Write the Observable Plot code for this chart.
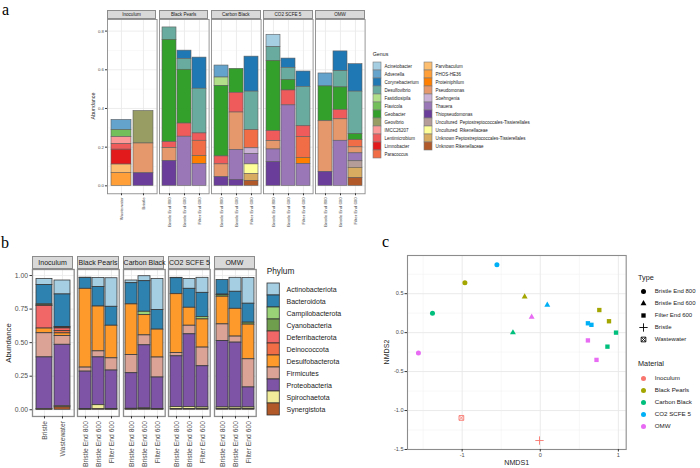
<!DOCTYPE html>
<html><head><meta charset="utf-8">
<script src="https://cdn.jsdelivr.net/npm/d3@7"></script>
<script src="https://cdn.jsdelivr.net/npm/@observablehq/plot@0.6"></script>
<style>
body{margin:0;background:#fff;}
#root{position:relative;width:700px;height:468px;overflow:hidden;background:#fff;font-family:"Liberation Sans",Arial,sans-serif;}
</style></head>
<body><div id="root"></div>
<script>
// ---------------- DATA ----------------
const materials = ["Inoculum","Black Pearls","Carbon Black","CO2 SCFE 5","OMW"];
const materialColors = ["#F8766D","#A3A500","#00BF7D","#00B0F6","#E76BF3"];
const inoculumSamplesA = ["Wastewater","Bristle"];
const inoculumSamplesB = ["Bristle","Wastewater"];
const treatmentSamples = ["Bristle End 800","Bristle End 600","Filter End 600"];

const genera = ["Acinetobacter","Advenella","Corynebacterium","Desulfovibrio","Fastidiosipila","Flavicola","Geobacter","Geovibrio","IMCC26207","Lentimicrobium","Limnobacter","Paracoccus","Parvibaculum","PHOS-HE36","Proteiniphilum","Pseudomonas","Soehngenia","Thauera","Thiopseudomonas","Uncultured  Peptostreptococcales-Tissierellales","Uncultured  Rikenellaceae","Unknown Peptostreptococcales-Tissierellales","Unknown Rikenellaceae"];

const genusInoculum = [
  ["Wastewater","Advenella",0.053],["Wastewater","Flavicola",0.036],["Wastewater","IMCC26207",0.036],
  ["Wastewater","Lentimicrobium",0.029],["Wastewater","Limnobacter",0.077],["Wastewater","Parvibaculum",0.043],
  ["Wastewater","PHOS-HE36",0.067],
  ["Bristle","Geovibrio",0.168],["Bristle","Pseudomonas",0.154],["Bristle","Thiopseudomonas",0.065]
];
const genusBlackPearls = [
  ["Bristle End 800","Desulfovibrio",0.064],["Bristle End 800","Geobacter",0.529],["Bristle End 800","Lentimicrobium",0.031],
  ["Bristle End 800","Pseudomonas",0.067],["Bristle End 800","Thiopseudomonas",0.128],
  ["Bristle End 600","Corynebacterium",0.043],["Bristle End 600","Desulfovibrio",0.056],["Bristle End 600","Geobacter",0.278],
  ["Bristle End 600","Lentimicrobium",0.068],["Bristle End 600","Thauera",0.254],
  ["Filter End 600","Corynebacterium",0.161],["Filter End 600","Desulfovibrio",0.231],["Filter End 600","Lentimicrobium",0.038],
  ["Filter End 600","Paracoccus",0.079],["Filter End 600","Proteiniphilum",0.041],["Filter End 600","Thauera",0.113]
];
const genusCarbonBlack = [
  ["Bristle End 800","Advenella",0.062],["Bristle End 800","Fastidiosipila",0.043],["Bristle End 800","Geobacter",0.365],
  ["Bristle End 800","Lentimicrobium",0.041],["Bristle End 800","Pseudomonas",0.066],["Bristle End 800","Thiopseudomonas",0.045],
  ["Bristle End 600","Geobacter",0.124],["Bristle End 600","Lentimicrobium",0.102],["Bristle End 600","Pseudomonas",0.194],
  ["Bristle End 600","Thauera",0.154],["Bristle End 600","Thiopseudomonas",0.031],
  ["Filter End 600","Corynebacterium",0.181],["Filter End 600","Desulfovibrio",0.199],["Filter End 600","Paracoccus",0.094],
  ["Filter End 600","Soehngenia",0.03],["Filter End 600","Thauera",0.053],["Filter End 600","Uncultured  Rikenellaceae",0.049],
  ["Filter End 600","Unknown Peptostreptococcales-Tissierellales",0.036],["Filter End 600","Unknown Rikenellaceae",0.026]
];
const genusCO2 = [
  ["Bristle End 800","Acinetobacter",0.063],["Bristle End 800","Desulfovibrio",0.072],["Bristle End 800","Geobacter",0.363],
  ["Bristle End 800","Lentimicrobium",0.052],["Bristle End 800","Pseudomonas",0.043],["Bristle End 800","Thauera",0.065],
  ["Bristle End 800","Thiopseudomonas",0.123],
  ["Bristle End 600","Corynebacterium",0.048],["Bristle End 600","Desulfovibrio",0.062],["Bristle End 600","Geobacter",0.055],
  ["Bristle End 600","Lentimicrobium",0.077],["Bristle End 600","Thauera",0.416],
  ["Filter End 600","Corynebacterium",0.079],["Filter End 600","Desulfovibrio",0.204],["Filter End 600","Lentimicrobium",0.056],
  ["Filter End 600","Paracoccus",0.108],["Filter End 600","Proteiniphilum",0.031],["Filter End 600","Thauera",0.113]
];
const genusOMW = [
  ["Bristle End 800","Advenella",0.067],["Bristle End 800","Geobacter",0.18],["Bristle End 800","Pseudomonas",0.262],
  ["Bristle End 800","Thiopseudomonas",0.072],
  ["Bristle End 600","Corynebacterium",0.102],["Bristle End 600","Desulfovibrio",0.084],["Bristle End 600","Geobacter",0.117],
  ["Bristle End 600","Lentimicrobium",0.048],["Bristle End 600","Pseudomonas",0.111],["Bristle End 600","Thauera",0.233],
  ["Filter End 600","Corynebacterium",0.142],["Filter End 600","Desulfovibrio",0.22],["Filter End 600","Geobacter",0.031],
  ["Filter End 600","Paracoccus",0.037],["Filter End 600","Pseudomonas",0.031],["Filter End 600","Thauera",0.041],
  ["Filter End 600","Uncultured  Peptostreptococcales-Tissierellales",0.034],
  ["Filter End 600","Unknown Peptostreptococcales-Tissierellales",0.052],["Filter End 600","Unknown Rikenellaceae",0.041]
];

const phyla = ["Actinobacteriota","Bacteroidota","Campilobacterota","Cyanobacteria","Deferribacterota","Deinococcota","Desulfobacterota","Firmicutes","Proteobacteria","Spirochaetota","Synergistota"];
// values per sample in the order of `phyla`
const phylumInoculum = [
  ["Bristle",        [0.045,0.145,0.008,0.003,0.169,0,0.035,0.18,0.386,0.002,0.002]],
  ["Wastewater",     [0.104,0.243,0.004,0.006,0.02,0.017,0.02,0.065,0.458,0.008,0.018]]
];
const phylumBlackPearls = [
  ["Bristle End 800",[0.003,0.08,0,0,0,0,0.587,0.03,0.279,0.004,0.001]],
  ["Bristle End 600",[0.067,0.146,0,0,0,0,0.334,0.045,0.356,0.03,0.004]],
  ["Filter End 600", [0.213,0.141,0,0,0,0,0.243,0.091,0.286,0.004,0.002]]
];
const phylumCarbonBlack = [
  ["Bristle End 800",[0.02,0.158,0,0,0,0,0.377,0.136,0.265,0.004,0.003]],
  ["Bristle End 600",[0.037,0.228,0.025,0,0,0,0.151,0.074,0.47,0.005,0.005]],
  ["Filter End 600", [0.232,0.146,0,0,0,0,0.208,0.149,0.234,0.004,0.002]]
];
const phylumCO2 = [
  ["Bristle End 800",[0.003,0.119,0,0,0,0,0.438,0.025,0.378,0.014,0.006]],
  ["Bristle End 600",[0.074,0.141,0,0,0,0,0.134,0.064,0.542,0.014,0.006]],
  ["Filter End 600", [0.112,0.181,0.017,0,0,0,0.21,0.139,0.307,0.012,0.005]]
];
const phylumOMW = [
  ["Bristle End 800",[0,0.109,0.004,0.012,0,0,0.206,0.124,0.495,0.012,0.005]],
  ["Bristle End 600",[0.104,0.127,0,0,0,0,0.207,0.045,0.483,0.012,0.005]],
  ["Filter End 600", [0.191,0.141,0,0.015,0,0,0.258,0.21,0.149,0.012,0.005]]
];

const nmdsTypes = ["Bristle End 800","Bristle End 600","Filter End 600","Bristle","Wastewater"];
const nmdsMaterial = ["Inoculum","Inoculum","Black Pearls","Black Pearls","Black Pearls","Black Pearls","Carbon Black","Carbon Black","Carbon Black","Carbon Black","CO2 SCFE 5","CO2 SCFE 5","CO2 SCFE 5","CO2 SCFE 5","OMW","OMW","OMW","OMW"];
const nmdsType = ["Wastewater","Bristle","Bristle End 800","Bristle End 600","Filter End 600","Filter End 600","Bristle End 800","Bristle End 600","Filter End 600","Filter End 600","Bristle End 800","Bristle End 600","Filter End 600","Filter End 600","Bristle End 800","Bristle End 600","Filter End 600","Filter End 600"];
const nmds1 = [-1.01,-0.01,-0.965,-0.20,0.756,0.88,-1.38,-0.35,0.97,0.86,-0.555,0.09,0.61,0.655,-1.56,-0.11,0.61,0.72];
const nmds2 = [-1.095,-1.385,0.64,0.46,0.29,0.146,0.25,0.0,0.0,-0.18,0.87,0.355,0.12,0.10,-0.26,0.20,-0.10,-0.35];

// ---------------- HELPERS ----------------
const FONT = '"Liberation Sans", Arial, sans-serif';
const SERIF = '"Liberation Serif", "Times New Roman", serif';
const root = document.getElementById("root");
const paired = ["#A6CEE3","#1F78B4","#B2DF8A","#33A02C","#FB9A99","#E31A1C","#FDBF6F","#FF7F00","#CAB2D6","#6A3D9A","#FFFF99","#B15928"];
const ramp = d3.piecewise(d3.interpolateRgb, paired);
const genusColors = d3.quantize(ramp, genera.length);
const phylumColors = d3.quantize(ramp, phyla.length);

function put(el, left, top) {
  Object.assign(el.style, {position:"absolute", left:left+"px", top:top+"px", overflow:"visible", maxWidth:"none"});
  root.appendChild(el);
  return el;
}
function label(txt, x, y, size, o = {}) {
  const d = document.createElement("div");
  d.textContent = txt;
  Object.assign(d.style, {position:"absolute", left:x+"px", top:y+"px", fontSize:size+"px",
    fontFamily:o.family || FONT, color:o.color || "#1A1A1A", whiteSpace:"pre", lineHeight:o.lh || "1",
    transform:`translate(${o.ax ?? -50}%, ${o.ay ?? -50}%)` + (o.rot ? ` rotate(${o.rot}deg)` : "")});
  root.appendChild(d);
}
function strip(txt, left, top, w, h, fs) {
  const d = document.createElement("div");
  d.textContent = txt;
  Object.assign(d.style, {position:"absolute", left:left+"px", top:top+"px", width:w+"px", height:h+"px",
    boxSizing:"border-box", background:"#D9D9D9", border:"1px solid #8C8C8C", fontSize:fs+"px",
    lineHeight:(h-2)+"px", textAlign:"center", color:"#1A1A1A", whiteSpace:"nowrap", overflow:"visible"});
  root.appendChild(d);
}

function facet(cfg, i) {
  const left = cfg.left0 + i * cfg.step;
  const ml = i === 0 ? cfg.ml : 0;
  const rows = cfg.data[i].filter(d => d[2] > 0);
  const marks = [
    Plot.gridY(cfg.minor, {stroke:"#F2F2F2", strokeOpacity:1, strokeWidth:0.5}),
    Plot.gridY(cfg.major, {stroke:"#E8E8E8", strokeOpacity:1, strokeWidth:0.8}),
    Plot.gridX({stroke:"#E8E8E8", strokeOpacity:1, strokeWidth:0.8}),
    Plot.barY(rows, {x: d => d[0], y: d => d[2], fill: d => d[1], order: cfg.order, stroke: cfg.barStroke, strokeWidth: cfg.barSW}),
    Plot.frame({stroke:"#8C8C8C", strokeWidth: cfg.frameSW}),
    Plot.axisX({tickRotate:-90, tickSize:cfg.tick, tickPadding:cfg.pad, label:null, stroke:"#333"})
  ];
  if (i === 0) marks.push(Plot.axisY(cfg.major, {tickFormat:cfg.fmt, tickSize:cfg.tick, tickPadding:cfg.pad, label:null, stroke:"#333"}));
  const p = Plot.plot({
    width: ml + cfg.w, height: cfg.panelH + cfg.mb,
    marginLeft: ml, marginRight: 0, marginTop: 0, marginBottom: cfg.mb,
    style: {fontFamily: FONT, fontSize: cfg.fs + "px", color: "#4D4D4D", background: "transparent"},
    x: {type:"band", domain: cfg.samples[i], paddingInner:0.1, paddingOuter:0.15, axis:null},
    y: {domain: cfg.yDomain, axis:null},
    color: {domain: cfg.cDomain, range: cfg.cRange},
    marks
  });
  put(p, left - ml, cfg.panelTop);
  strip(materials[i], left, cfg.stripTop, cfg.w, cfg.stripH, cfg.stripFs);
}

function swatches(items, cDomain, cRange, o) {
  const H = items.length * o.rowH;
  const pad = 1 - o.keyH / o.rowH;
  const p = Plot.plot({
    width: o.width, height: H, margin: 0,
    style: {fontFamily: FONT, fontSize: o.fs + "px", color: "#1A1A1A", background: "transparent"},
    x: {domain:[0,1], range:[0,o.keyW], axis:null},
    y: {type:"band", domain: items, range:[0,H], paddingInner:pad, paddingOuter:pad/2, axis:null},
    color: {domain: cDomain, range: cRange},
    marks: [
      Plot.barX(items, {y: d => d, x1: 0, x2: 1, fill: d => d, stroke: o.stroke, strokeWidth: o.sw}),
      Plot.text(items, {y: d => d, x: 1, dx: o.dx, text: d => d, textAnchor: "start", fill: "#1A1A1A"})
    ]
  });
  put(p, o.left, o.top);
}

// ---------------- PANEL A ----------------
const order = genera.slice().reverse();
const cfgA = {
  data: [genusInoculum, genusBlackPearls, genusCarbonBlack, genusCO2, genusOMW],
  samples: [inoculumSamplesA, treatmentSamples, treatmentSamples, treatmentSamples, treatmentSamples],
  left0: 106.7, step: 52.15, w: 49.6, ml: 14, panelTop: 19, panelH: 174.3, mb: 45,
  stripTop: 9.7, stripH: 9.5, stripFs: 4.6, fs: 4.4, tick: 2, pad: 1.5,
  yDomain: [-0.041, 0.86], major: [0, 0.2, 0.4, 0.6, 0.8], minor: [0.1, 0.3, 0.5, 0.7],
  fmt: d => d.toFixed(1), cDomain: genera, cRange: genusColors, order,
  barStroke: "#5E5E5E", barSW: 0.6, frameSW: 0.9
};
for (let i = 0; i < 5; i++) facet(cfgA, i);
label("Abundance", 94.3, 106, 5.3, {rot:-90});
label("Genus", 372.7, 55, 5.3, {ax:0});
swatches(genera.slice(0, 12), genera, genusColors, {left:373, top:60.35, rowH:8.3, keyH:7.9, keyW:8, dx:3, fs:4.5, width:50, stroke:"#7A7A7A", sw:0.6});
swatches(genera.slice(12), genera, genusColors, {left:424, top:60.35, rowH:8.3, keyH:7.9, keyW:8, dx:3, fs:4.5, width:120, stroke:"#7A7A7A", sw:0.6});

// ---------------- PANEL B ----------------
const toRows = arr => arr.flatMap(([s, vals]) => vals.map((v, k) => [s, phyla[k], v]));
const cfgB = {
  data: [phylumInoculum, phylumBlackPearls, phylumCarbonBlack, phylumCO2, phylumOMW].map(toRows),
  samples: [inoculumSamplesB, treatmentSamples, treatmentSamples, treatmentSamples, treatmentSamples],
  left0: 31.7, step: 45.45, w: 41.7, ml: 28, panelTop: 269, panelH: 147, mb: 55,
  stripTop: 256, stripH: 13.2, stripFs: 7, fs: 6.8, tick: 2.5, pad: 2,
  yDomain: [-0.05, 1.045], major: [0, 0.25, 0.5, 0.75, 1], minor: [0.125, 0.375, 0.625, 0.875],
  fmt: d => d.toFixed(2), cDomain: phyla, cRange: phylumColors, order: phyla.slice().reverse(),
  barStroke: "#3A3A3A", barSW: 0.8, frameSW: 1.3
};
for (let i = 0; i < 5; i++) facet(cfgB, i);
label("Abundance", 9, 342.5, 7.8, {rot:-90});
label("Phylum", 266.7, 270.7, 8.3, {ax:0});
swatches(phyla, phyla, phylumColors, {left:266.7, top:277.85, rowH:12.9, keyH:12.4, keyW:12.3, dx:6.7, fs:7, width:90, stroke:"#333", sw:0.8});

// ---------------- PANEL C ----------------
const nmds = nmds1.map((x, i) => ({x, y: nmds2[i], type: nmdsType[i], material: nmdsMaterial[i]}));
const of = t => nmds.filter(d => d.type === t);
const cML = 30, cMT = 3, cMB = 22, cMR = 4, cW = 218.7, cH = 194;
const pc = Plot.plot({
  width: cML + cW + cMR, height: cMT + cH + cMB,
  marginLeft: cML, marginTop: cMT, marginBottom: cMB, marginRight: cMR,
  style: {fontFamily: FONT, fontSize: "5.6px", color: "#4D4D4D", background: "transparent"},
  x: {domain: [-1.70, 1.10], axis: null},
  y: {domain: [-1.5, 0.99], axis: null},
  color: {domain: materials, range: materialColors},
  marks: [
    Plot.gridX([-1.5, -0.5, 0.5], {stroke:"#F2F2F2", strokeOpacity:1, strokeWidth:0.6}),
    Plot.gridY([0.75, 0.25, -0.25, -0.75, -1.25], {stroke:"#F2F2F2", strokeOpacity:1, strokeWidth:0.6}),
    Plot.gridX([-1, 0, 1], {stroke:"#E8E8E8", strokeOpacity:1, strokeWidth:0.9}),
    Plot.gridY([0.5, 0, -0.5, -1, -1.5], {stroke:"#E8E8E8", strokeOpacity:1, strokeWidth:0.9}),
    Plot.dot(of("Bristle End 800"), {x:"x", y:"y", fill:"material", symbol:"circle", r:2.5}),
    Plot.dot(of("Bristle End 600"), {x:"x", y:"y", fill:"material", symbol:"triangle", r:2.2}),
    Plot.dot(of("Filter End 600"), {x:"x", y:"y", fill:"material", symbol:"square", r:2.45}),
    Plot.dot(of("Bristle"), {x:"x", y:"y", stroke:"material", fill:"none", symbol:"plus", r:2.8, strokeWidth:0.9}),
    Plot.dot(of("Wastewater"), {x:"x", y:"y", stroke:"material", fill:"none", symbol:"square2", r:3, strokeWidth:0.9}),
    Plot.dot(of("Wastewater"), {x:"x", y:"y", stroke:"material", fill:"none", symbol:"times", r:2.1, strokeWidth:0.8}),
    Plot.frame({stroke:"#8C8C8C", strokeWidth:1.1}),
    Plot.axisX([-1, 0, 1], {tickFormat: d => String(d), tickSize:2.5, tickPadding:1.5, label:null, stroke:"#333"}),
    Plot.axisY([0.5, 0, -0.5, -1, -1.5], {tickFormat: d => d.toFixed(1), tickSize:2.5, tickPadding:1.5, label:null, stroke:"#333"})
  ]
});
put(pc, 407.3 - cML, 255.3 - cMT);
label("NMDS1", 516.7, 464, 7.1);
label("NMDS2", 388, 352, 7.1, {rot:-90});

// Type legend
const typeRowH = 12.15, typeTop = 290.7 - typeRowH / 2;
const legType = Plot.plot({
  width: 70, height: nmdsTypes.length * typeRowH, margin: 0,
  style: {fontFamily: FONT, fontSize: "6px", color: "#1A1A1A", background: "transparent"},
  x: {domain:[0,1], range:[0,1], axis:null},
  y: {type:"band", domain: nmdsTypes, range:[0, nmdsTypes.length * typeRowH], padding:0, axis:null},
  marks: [
    Plot.dot([nmdsTypes[0]], {x:0, y:d=>d, symbol:"circle", r:2.5, fill:"black"}),
    Plot.dot([nmdsTypes[1]], {x:0, y:d=>d, symbol:"triangle", r:2.2, fill:"black"}),
    Plot.dot([nmdsTypes[2]], {x:0, y:d=>d, symbol:"square", r:2.45, fill:"black"}),
    Plot.dot([nmdsTypes[3]], {x:0, y:d=>d, symbol:"plus", r:2.8, stroke:"black", fill:"none", strokeWidth:0.9}),
    Plot.dot([nmdsTypes[4]], {x:0, y:d=>d, symbol:"square2", r:3, stroke:"black", fill:"none", strokeWidth:0.9}),
    Plot.dot([nmdsTypes[4]], {x:0, y:d=>d, symbol:"times", r:2.1, stroke:"black", fill:"none", strokeWidth:0.8}),
    Plot.text(nmdsTypes, {x:0, y:d=>d, dx:11.3, text:d=>d, textAnchor:"start", fill:"#1A1A1A"})
  ]
});
put(legType, 642.7, typeTop);
label("Type", 638, 278.3, 7.3, {ax:0});

// Material legend
const matRowH = 12;
const legMat = Plot.plot({
  width: 70, height: materials.length * matRowH, margin: 0,
  style: {fontFamily: FONT, fontSize: "6.2px", color: "#1A1A1A", background: "transparent"},
  x: {domain:[0,1], range:[0,1], axis:null},
  y: {type:"band", domain: materials, range:[0, materials.length * matRowH], padding:0, axis:null},
  color: {domain: materials, range: materialColors},
  marks: [
    Plot.dot(materials, {x:0, y:d=>d, symbol:"circle", r:2.5, fill:d=>d}),
    Plot.text(materials, {x:0, y:d=>d, dx:11.3, text:d=>d, textAnchor:"start", fill:"#1A1A1A"})
  ]
});
put(legMat, 642.7, 378.3 - matRowH / 2);
label("Material", 638, 364.3, 7.3, {ax:0});

// Panel letters
label("a", 2, 1.5, 16, {ax:0, ay:0, family:SERIF, color:"#000"});
label("b", 1, 235, 16, {ax:0, ay:0, family:SERIF, color:"#000"});
label("c", 382, 233.6, 16, {ax:0, ay:0, family:SERIF, color:"#000"});
</script>
</body></html>
